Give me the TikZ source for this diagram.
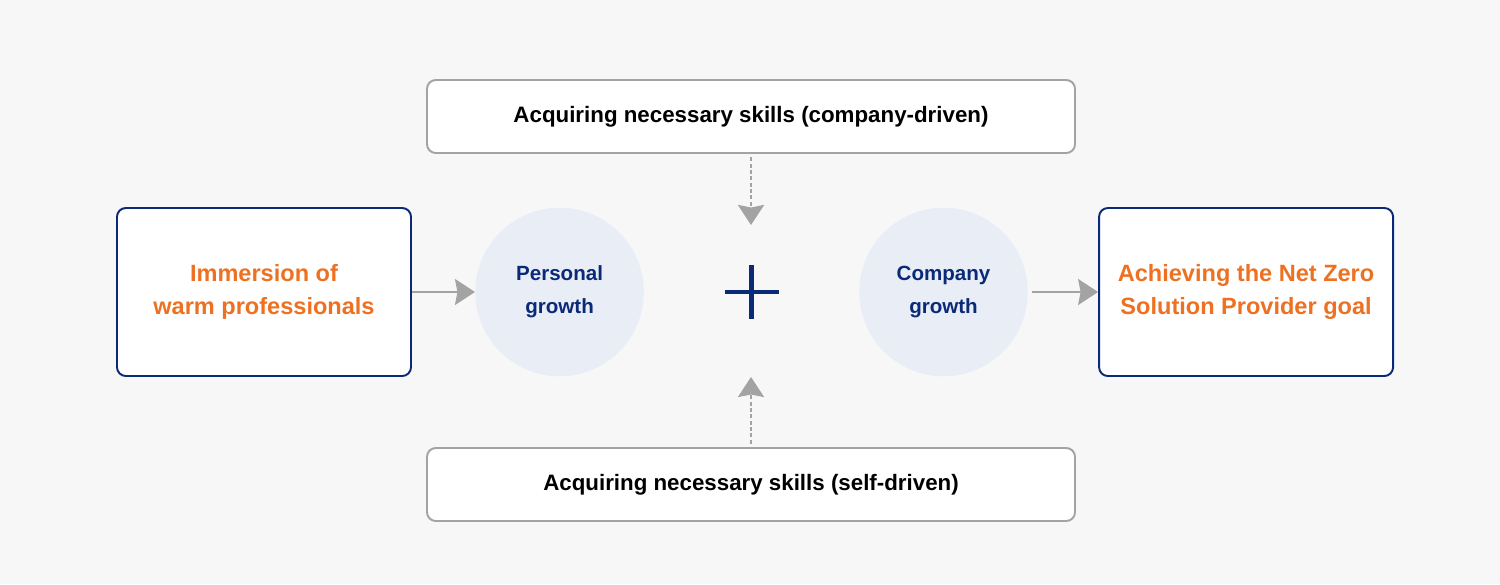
\documentclass[tikz,border=0pt]{standalone}
\usepackage{fontspec}
\setmainfont{Liberation Sans}
\usetikzlibrary{arrows.meta, positioning}
\definecolor{bgc}{HTML}{F7F7F7}
\definecolor{nvy}{HTML}{0A2A78}
\definecolor{org}{HTML}{EE7122}
\definecolor{gry}{HTML}{A3A3A3}
\definecolor{crc}{HTML}{E8EDF6}
\tikzset{
  skillbox/.style = {rectangle, rounded corners=5pt, draw=gry, fill=white,
                     line width=1.1pt, minimum width=12.96cm, minimum height=1.46cm,
                     inner sep=0pt, font=\fontsize{12.7}{16}\selectfont\bfseries,
                     text=black, align=center},
  endbox/.style   = {rectangle, rounded corners=5pt, draw=nvy, fill=white,
                     line width=1.1pt, minimum width=5.88cm, minimum height=3.36cm,
                     inner sep=0pt, font=\fontsize{13.4}{18.8}\selectfont\bfseries,
                     text=org, align=center},
  growcirc/.style = {circle, fill=crc, minimum size=3.37cm, inner sep=0pt,
                     font=\fontsize{11.7}{18.8}\selectfont\bfseries,
                     text=nvy, align=center},
  arr/.style      = {-{Stealth[length=0.4cm, width=0.52cm, inset=0.05cm]},
                     line width=1.1pt, color=gry},
  darr/.style     = {arr, line width=1.4pt, dash pattern=on 2.2pt off 1.4pt},
  pluss/.style    = {line width=2.3pt, color=nvy},
}
\begin{document}
\begin{tikzpicture}
  \fill[bgc] (0,0) rectangle (30,-11.68);
  \useasboundingbox (0,0) rectangle (30,-11.68);

  \node[endbox] (imm) at (5.28,-5.84) {Immersion of\\warm professionals};
  \node[growcirc, right=1.26cm of imm] (pers) {Personal\\growth};
  \node[growcirc] (comp) at (18.87,-5.84) {Company\\growth};
  \node[endbox, right=1.4cm of comp] (goal) {Achieving the Net Zero\\Solution Provider goal};

  \node[skillbox] (cdrv) at (15.02,-2.33) {Acquiring necessary skills (company-driven)};
  \node[skillbox] (sdrv) at (15.02,-9.69) {Acquiring necessary skills (self-driven)};

  % plus sign
  \coordinate (plus) at (15.03,-5.84);
  \draw[pluss] ([yshift=0.54cm]plus) -- ([yshift=-0.54cm]plus);
  \draw[pluss] ([xshift=-0.54cm]plus) -- ([xshift=0.54cm]plus);

  \coordinate (tipA) at (15.02,-4.5);
  \coordinate (tipB) at (15.02,-7.54);

  \draw[arr] (imm) -- (pers);
  \draw[arr, shorten <=2pt] (comp) -- (goal);
  \draw[darr, shorten <=2pt] (cdrv) -- (tipA);
  \draw[darr, shorten <=2pt] (sdrv) -- (tipB);

\end{tikzpicture}
\end{document}
